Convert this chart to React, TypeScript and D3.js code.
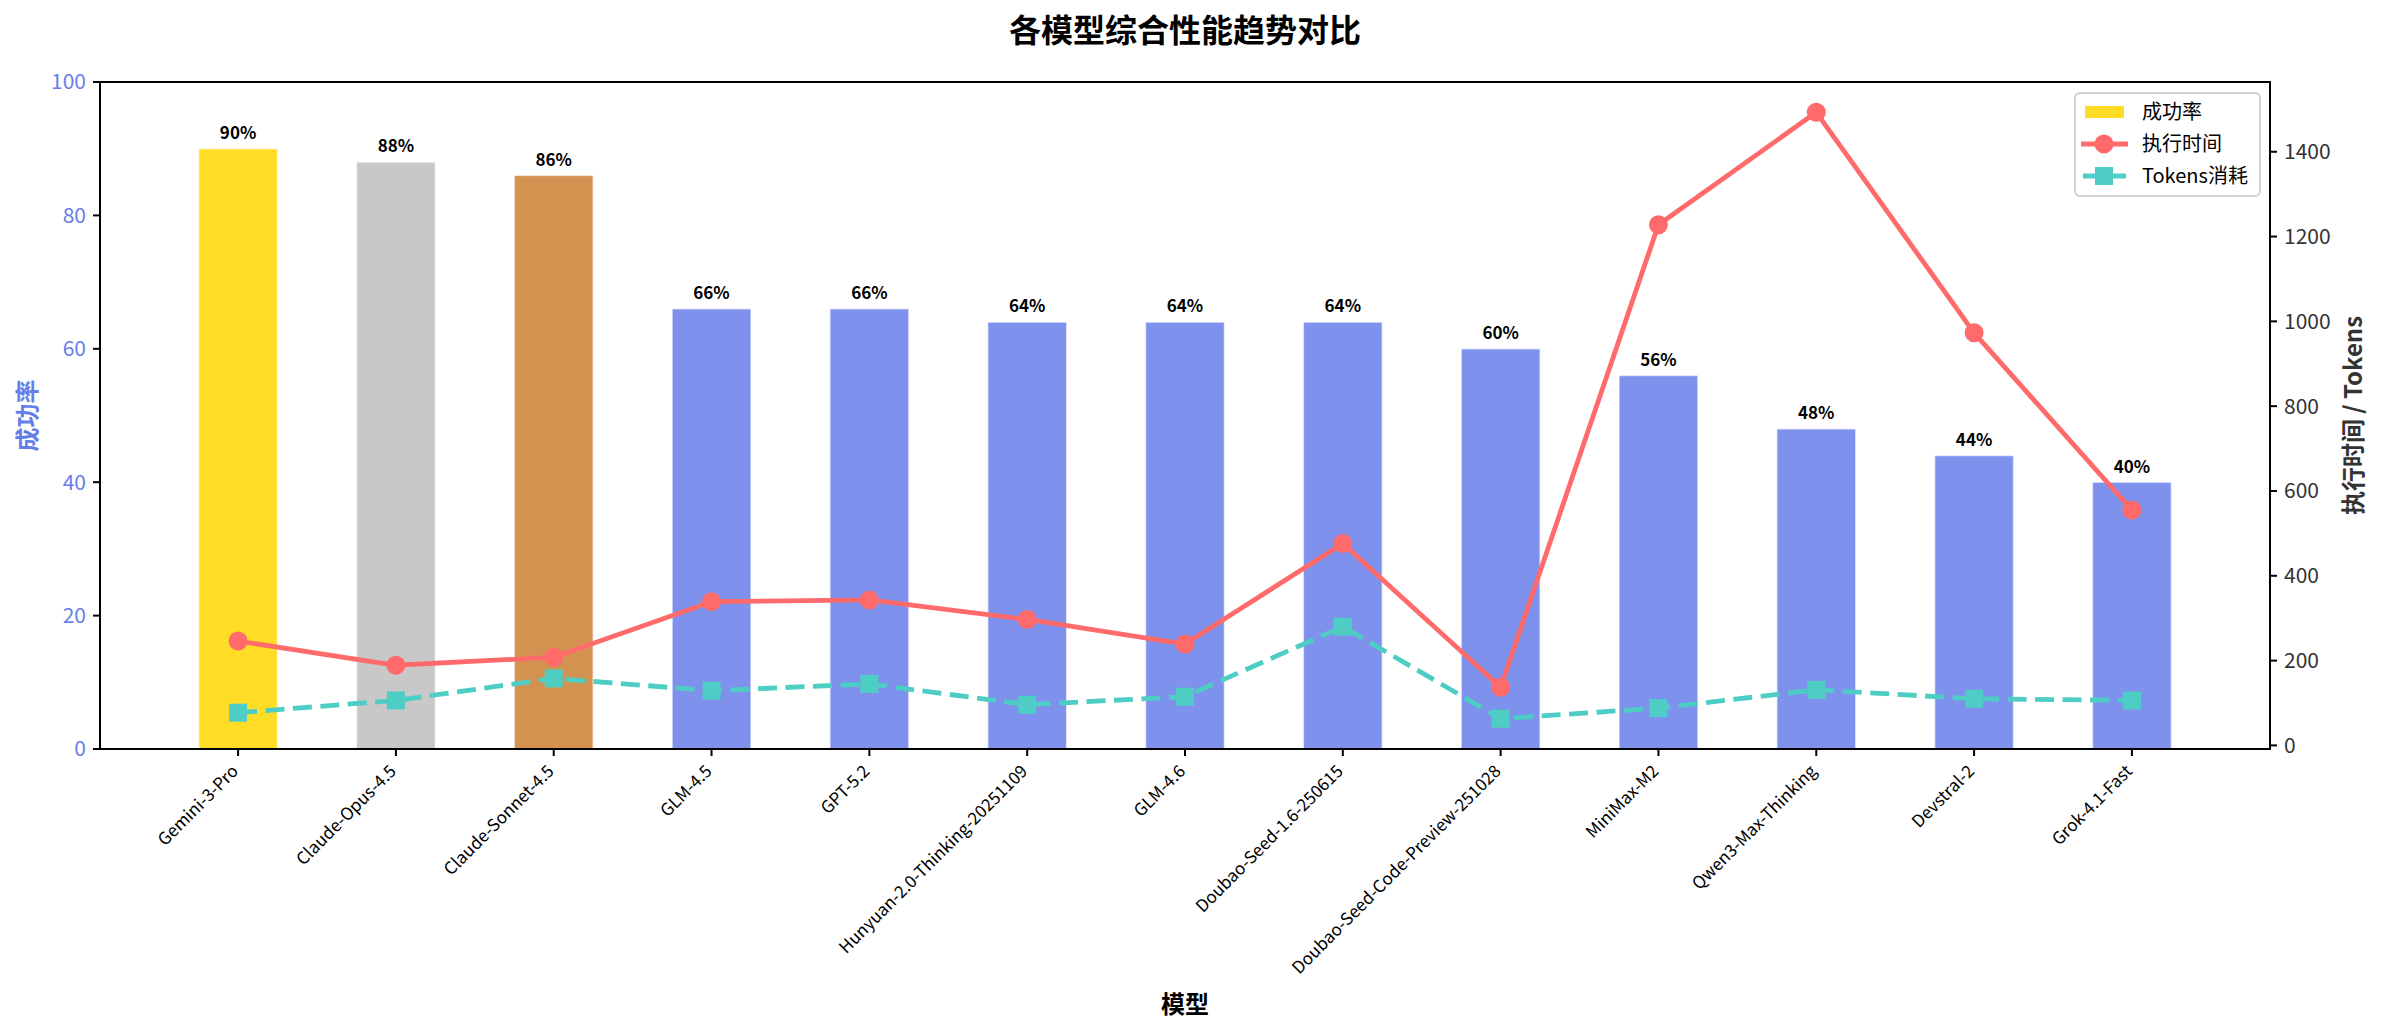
import React, { useRef, useEffect } from "react";
import * as d3 from "d3";

const models = [
  "Gemini-3-Pro",
  "Claude-Opus-4.5",
  "Claude-Sonnet-4.5",
  "GLM-4.5",
  "GPT-5.2",
  "Hunyuan-2.0-Thinking-20251109",
  "GLM-4.6",
  "Doubao-Seed-1.6-250615",
  "Doubao-Seed-Code-Preview-251028",
  "MiniMax-M2",
  "Qwen3-Max-Thinking",
  "Devstral-2",
  "Grok-4.1-Fast",
];
const successRate = [90, 88, 86, 66, 66, 64, 64, 64, 60, 56, 48, 44, 40];
const execTime = [246, 189, 208, 339, 343, 297, 239, 476, 137, 1228, 1493, 973, 555];
const tokens = [77, 106, 158, 129, 145, 96, 115, 280, 63, 88, 131, 110, 106];
const leftTicks = [0, 20, 40, 60, 80, 100];
const rightTicks = [0, 200, 400, 600, 800, 1000, 1200, 1400];

const W = 2383;
const H = 1033;
const FONT = "'Noto Sans CJK SC', 'Noto Sans', sans-serif";

// gold / silver / bronze for top three, blue for the rest
const rankColors = ["#FFDD26", "#C8C8C8", "#D49250"];
const baseColor = "#7D91ED";
const timeColor = "#FF6B6B";
const tokenColor = "#4ECDC4";
const axisBlue = "#667eea";

const App: React.FC = () => {
  const svgRef = useRef<SVGSVGElement | null>(null);

  useEffect(() => {
    if (!svgRef.current) return;
    const svg = d3.select(svgRef.current);
    svg.selectAll("*").remove();

    const left = 100, right = 2270, top = 82, bottom = 749;
    const n = models.length;
    const barW = 0.5;

    // matplotlib-like 5% margins
    const xr = (n - 1) + barW;
    const x = d3.scaleLinear()
      .domain([-barW / 2 - 0.05 * xr, n - 1 + barW / 2 + 0.05 * xr])
      .range([left, right]);
    const yL = d3.scaleLinear().domain([0, 100]).range([bottom, top]);
    const all = execTime.concat(tokens);
    const [mn, mx] = d3.extent(all) as [number, number];
    const pad = (mx - mn) * 0.05;
    const yR = d3.scaleLinear().domain([mn - pad, mx + pad]).range([bottom, top]);

    svg.style("font-family", FONT);

    // title
    svg.append("text")
      .attr("x", (left + right) / 2).attr("y", 42)
      .attr("text-anchor", "middle")
      .attr("font-size", 32).attr("font-weight", "bold")
      .attr("fill", "#000")
      .text("各模型综合性能趋势对比");

    // bars
    const color = (i: number) => (i < 3 ? rankColors[i] : baseColor);
    svg.append("g").selectAll("rect")
      .data(successRate)
      .join("rect")
      .attr("x", (_d, i) => x(i - barW / 2))
      .attr("width", (_d, i) => x(i + barW / 2) - x(i - barW / 2))
      .attr("y", (d) => yL(d))
      .attr("height", (d) => yL(0) - yL(d))
      .attr("fill", (_d, i) => color(i))
      .attr("stroke", "#fff")
      .attr("stroke-opacity", 0.6)
      .attr("stroke-width", 1.5);

    // bar value labels
    svg.append("g").selectAll("text")
      .data(successRate)
      .join("text")
      .attr("x", (_d, i) => x(i))
      .attr("y", (d) => yL(d + 1) - 3)
      .attr("text-anchor", "middle")
      .attr("font-size", 17).attr("font-weight", "bold")
      .attr("fill", "#000")
      .text((d) => `${d}%`);

    // lines
    const line = d3.line<number>()
      .x((_d, i) => x(i))
      .y((d) => yR(d));

    svg.append("path")
      .datum(tokens)
      .attr("d", line)
      .attr("fill", "none")
      .attr("stroke", tokenColor)
      .attr("stroke-width", 4.8)
      .attr("stroke-dasharray", "19 8.5");
    svg.append("g").selectAll("rect")
      .data(tokens)
      .join("rect")
      .attr("x", (_d, i) => x(i) - 9)
      .attr("y", (d) => yR(d) - 9)
      .attr("width", 18).attr("height", 18)
      .attr("fill", tokenColor);

    svg.append("path")
      .datum(execTime)
      .attr("d", line)
      .attr("fill", "none")
      .attr("stroke", timeColor)
      .attr("stroke-width", 4.8)
      .attr("stroke-linejoin", "round");
    svg.append("g").selectAll("circle")
      .data(execTime)
      .join("circle")
      .attr("cx", (_d, i) => x(i))
      .attr("cy", (d) => yR(d))
      .attr("r", 9.5)
      .attr("fill", timeColor);

    // frame
    svg.append("rect")
      .attr("x", left).attr("y", top)
      .attr("width", right - left).attr("height", bottom - top)
      .attr("fill", "none").attr("stroke", "#000").attr("stroke-width", 2);

    // left axis
    const gl = svg.append("g");
    leftTicks.forEach((t) => {
      gl.append("line")
        .attr("x1", left - 7).attr("x2", left)
        .attr("y1", yL(t)).attr("y2", yL(t))
        .attr("stroke", "#000").attr("stroke-width", 2);
      gl.append("text")
        .attr("x", left - 14).attr("y", yL(t))
        .attr("dy", "0.35em")
        .attr("text-anchor", "end")
        .attr("font-size", 21)
        .attr("fill", axisBlue)
        .text(t);
    });
    svg.append("text")
      .attr("transform", `translate(36,${(top + bottom) / 2}) rotate(-90)`)
      .attr("text-anchor", "middle")
      .attr("font-size", 24).attr("font-weight", "bold")
      .attr("fill", axisBlue)
      .text("成功率");

    // right axis
    const gr = svg.append("g");
    rightTicks.forEach((t) => {
      gr.append("line")
        .attr("x1", right).attr("x2", right + 7)
        .attr("y1", yR(t)).attr("y2", yR(t))
        .attr("stroke", "#000").attr("stroke-width", 2);
      gr.append("text")
        .attr("x", right + 14).attr("y", yR(t))
        .attr("dy", "0.35em")
        .attr("text-anchor", "start")
        .attr("font-size", 21)
        .attr("fill", "#333")
        .text(t);
    });
    svg.append("text")
      .attr("transform", `translate(2362,${(top + bottom) / 2}) rotate(-90)`)
      .attr("text-anchor", "middle")
      .attr("font-size", 24).attr("font-weight", "bold")
      .attr("fill", "#333")
      .text("执行时间 / Tokens");

    // x axis
    const gx = svg.append("g");
    models.forEach((m, i) => {
      gx.append("line")
        .attr("x1", x(i)).attr("x2", x(i))
        .attr("y1", bottom).attr("y2", bottom + 7)
        .attr("stroke", "#000").attr("stroke-width", 2);
      gx.append("text")
        .attr("transform", `translate(${x(i) - 10},${bottom + 12}) rotate(-45)`)
        .attr("text-anchor", "end")
        .attr("dominant-baseline", "hanging")
        .attr("font-size", 17)
        .attr("fill", "#000")
        .text(m);
    });
    svg.append("text")
      .attr("x", (left + right) / 2).attr("y", 1013)
      .attr("text-anchor", "middle")
      .attr("font-size", 24).attr("font-weight", "bold")
      .attr("fill", "#000")
      .text("模型");

    // legend
    const lg = svg.append("g");
    lg.append("rect")
      .attr("x", 2075).attr("y", 93)
      .attr("width", 185).attr("height", 103)
      .attr("rx", 5)
      .attr("fill", "#fff").attr("fill-opacity", 0.85)
      .attr("stroke", "#d0d0d0").attr("stroke-width", 2);
    const rows = [
      { label: "成功率", kind: "bar" },
      { label: "执行时间", kind: "time" },
      { label: "Tokens消耗", kind: "tokens" },
    ];
    rows.forEach((r, k) => {
      const cy = 112 + k * 32;
      if (r.kind === "bar") {
        lg.append("rect")
          .attr("x", 2085).attr("y", cy - 6)
          .attr("width", 39).attr("height", 12)
          .attr("fill", rankColors[0]);
      } else if (r.kind === "time") {
        lg.append("line")
          .attr("x1", 2081).attr("x2", 2128)
          .attr("y1", cy).attr("y2", cy)
          .attr("stroke", timeColor).attr("stroke-width", 4.8);
        lg.append("circle").attr("cx", 2104).attr("cy", cy).attr("r", 9.5).attr("fill", timeColor);
      } else {
        lg.append("line")
          .attr("x1", 2083).attr("x2", 2126)
          .attr("y1", cy).attr("y2", cy)
          .attr("stroke", tokenColor).attr("stroke-width", 4.8)
          .attr("stroke-dasharray", "19 8.5");
        lg.append("rect").attr("x", 2095).attr("y", cy - 9).attr("width", 18).attr("height", 18).attr("fill", tokenColor);
      }
      lg.append("text")
        .attr("x", 2142).attr("y", cy)
        .attr("dy", "0.35em")
        .attr("font-size", 20)
        .attr("fill", "#000")
        .text(r.label);
    });
  }, []);

  return (
    <svg
      ref={svgRef}
      width={W}
      height={H}
      style={{ position: "absolute", left: 0, top: 0, background: "#fff" }}
    />
  );
};

export default App;
